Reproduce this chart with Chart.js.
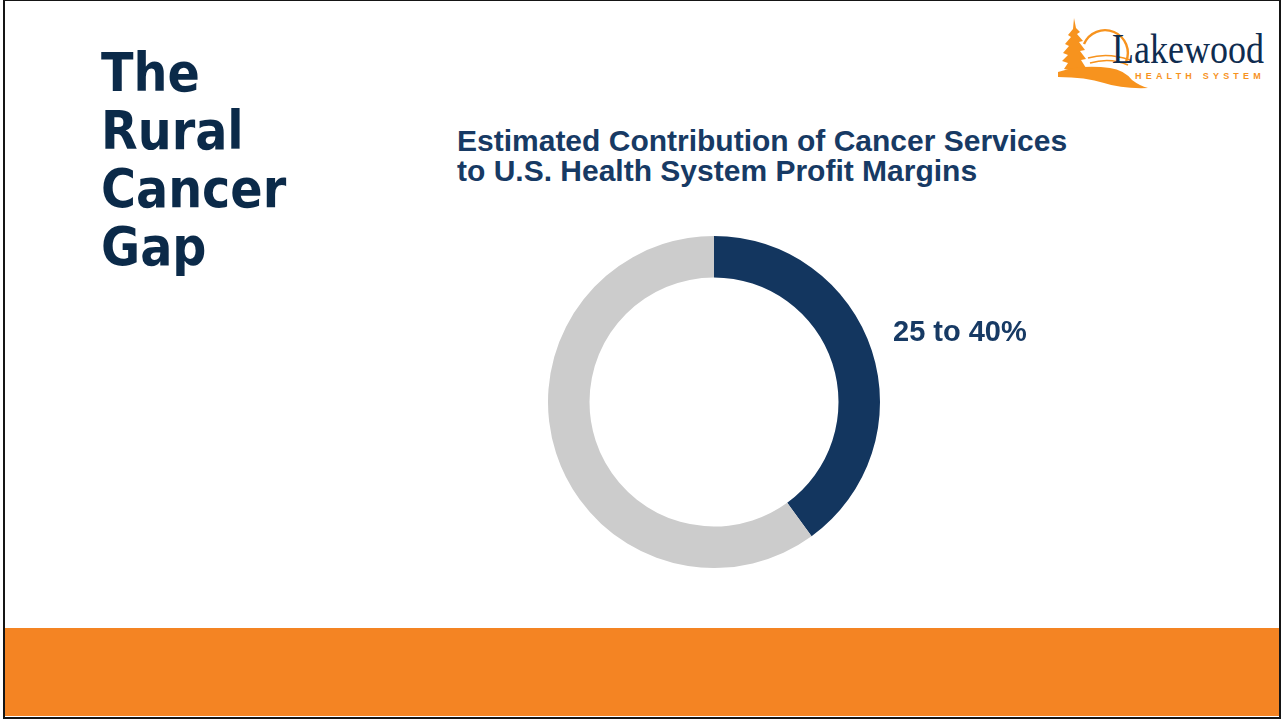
<!DOCTYPE html>
<html>
<head>
<meta charset="utf-8">
<script src="https://cdn.jsdelivr.net/npm/chart.js@4.4.1/dist/chart.umd.min.js"></script>
<style>
  html, body { margin: 0; padding: 0; background: #fff; }
  body { width: 1281px; height: 719px; position: relative; overflow: hidden; }
  .frame {
    position: absolute; left: 3px; top: 0; width: 1278px; height: 719px;
    box-sizing: border-box; border: 2px solid #151515; border-top-width: 1px;
  }
  .band { position: absolute; left: 5px; top: 628px; width: 1274px; height: 88px; background: #f48423; }
  .side {
    position: absolute; left: 101px; top: 44px; margin: 0;
    font-family: "DejaVu Sans Condensed", "DejaVu Sans", sans-serif; font-stretch: condensed;
    font-weight: bold; font-size: 53px; line-height: 58px; color: #0b2a49;
  }
  .title {
    position: absolute; left: 457px; top: 126px; margin: 0;
    font-family: "Liberation Sans", Arial, sans-serif; font-weight: bold;
    font-size: 30px; line-height: 30px; color: #173a64;
  }
  #wrap { position: absolute; left: 548px; top: 236px; width: 500px; height: 332px; }
  .logo { position: absolute; left: 1052px; top: 14px; width: 215px; height: 80px; }
</style>
</head>
<body>
<div class="frame"></div>
<h1 class="side">The<br>Rural<br>Cancer<br>Gap</h1>
<svg class="logo" viewBox="0 0 215 80">
  <!-- tree -->
  <path d="M22 4 L24 14 L28 18 L25 20 L31 27 L27 28 L33 36 L28 37 L34 45 L29 46 L34 54 L22 57 L12 55 L16 49 L10 47 L16 41 L11 39 L17 32 L13 30 L19 23 L16 21 L21 15 Z" fill="#f7931e"/>
  <!-- sun -->
  <path d="M32 30 A22 22 0 0 1 74 48" fill="none" stroke="#f7931e" stroke-width="2.4"/>
  <path d="M36 44 Q56 38 78 46 M38 49 Q58 43 76 51" fill="none" stroke="#f7931e" stroke-width="1.5"/>
  <!-- shore -->
  <path d="M6 58 Q30 50 58 54 Q72 56 80 66 Q88 72 96 74 Q70 75 52 69 Q34 63 6 63 Z" fill="#f7931e"/>
  <text transform="translate(60,49) scale(1,1.15)" x="0" y="0" font-family="Liberation Serif, serif" font-size="36" fill="#0f2c4f">Lakewood</text>
  <text x="83" y="65" font-family="Liberation Sans, sans-serif" font-weight="bold" font-size="9" letter-spacing="4.2" fill="#f7931e">HEALTH SYSTEM</text>
</svg>
<h2 class="title">Estimated Contribution of Cancer Services<br>to U.S. Health System Profit Margins</h2>
<div id="wrap"><canvas id="donut"></canvas></div>
<div class="band"></div>
<script>
const labels = ['25 to 40%', 'Other'];
const shares = [40, 60];
const colors = ['#13365f', '#cccccc'];
const shownLabels = ['25 to 40%'];

// draws the segment label to the right of the ring
const sideLabel = {
  id: 'sideLabel',
  afterDatasetsDraw(chart) {
    const arc = chart.getDatasetMeta(0).data[0];
    if (!arc) return;
    const ctx = chart.ctx;
    ctx.save();
    ctx.font = 'bold 29px "Liberation Sans", Arial, sans-serif';
    ctx.fillStyle = '#173a64';
    ctx.textAlign = 'left';
    ctx.textBaseline = 'alphabetic';
    ctx.fillText(shownLabels[0], arc.x + arc.outerRadius + 13, arc.y - 61);
    ctx.restore();
  }
};

new Chart(document.getElementById('donut'), {
  type: 'doughnut',
  data: {
    labels,
    datasets: [{ data: shares, backgroundColor: colors, borderWidth: 0 }]
  },
  options: {
    responsive: true,
    maintainAspectRatio: false,
    animation: false,
    cutout: '75%',
    layout: { padding: { right: 168 } },
    plugins: { legend: { display: false }, tooltip: { enabled: false } }
  },
  plugins: [sideLabel]
});
</script>
</body>
</html>
